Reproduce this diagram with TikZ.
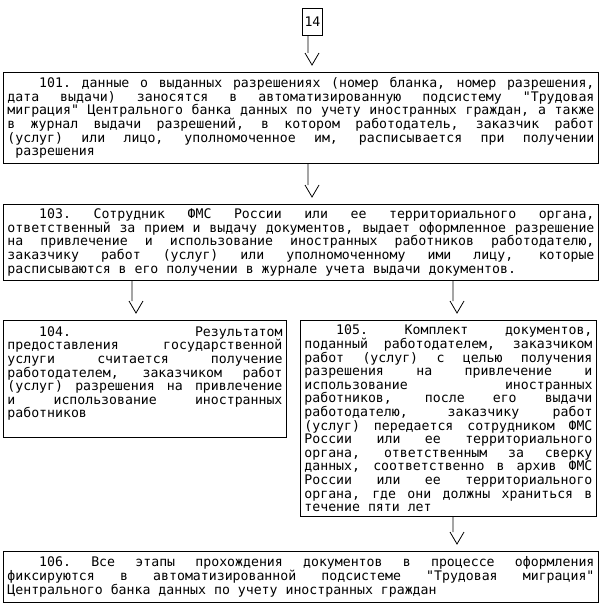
\documentclass[tikz,border=0pt]{standalone}
\usepackage{fontspec}
\setmonofont{DejaVu Sans Mono}
\usetikzlibrary{calc}

\newcommand{\boxfont}{\ttfamily\fontsize{13.2bp}{13.6bp}\selectfont
  \spaceskip=\fontdimen2\font plus 3\fontdimen2\font minus .3\fontdimen2\font
  \xspaceskip=\spaceskip \hyphenpenalty=10000 \tolerance=10000 }
\newcommand{\firstind}{\hspace*{4\fontdimen2\font}}

\begin{document}
\begin{tikzpicture}[x=1bp, y=-1bp,
	box/.style={draw, line width=0.9bp, anchor=north west, inner xsep=4bp, inner ysep=0bp, align=justify, font=\boxfont},
	vlink/.style={line width=0.8bp, to path={(\tikztostart) -- ($(\tikztotarget)+(0,-19)$)
		($(\tikztotarget)+(-3,-19)$) -- ($(\tikztotarget)+(4,-7)$) -- ($(\tikztotarget)+(11,-19)$)}}]
	\useasboundingbox (0,0) rectangle (605,614);
	\node[box, inner sep=0bp, minimum width=20bp, minimum height=27bp, align=center] (b14) at (302,8) {14};
	\node[box, text width=587bp, minimum height=91bp] (b101) at (3,72) {\firstind 101. данные о выданных разрешениях (номер бланка, номер разрешения,\linebreak
		дата выдачи) заносятся в автоматизированную подсистему "Трудовая\linebreak
		миграция" Центрального банка данных по учету иностранных граждан, а также\linebreak
		в журнал выдачи разрешений, в котором работодатель, заказчик работ\linebreak
		(услуг) или лицо, уполномоченное им, расписывается при получении\linebreak
		\hspace*{\fontdimen2\font}разрешения};
	\node[box, text width=587bp, minimum height=76bp] (b103) at (3,204) {\firstind 103. Сотрудник ФМС России или ее территориального органа,\linebreak
		ответственный за прием и выдачу документов, выдает оформленное разрешение\linebreak
		на привлечение и использование иностранных работников работодателю,\linebreak
		заказчику работ (услуг) или уполномоченному ими лицу, которые\linebreak
		расписываются в его получении в журнале учета выдачи документов.};
	\node[box, text width=275bp, minimum height=117bp] (b104) at (3,320) {\firstind 104. Результатом\linebreak
		предоставления государственной\linebreak
		услуги считается получение\linebreak
		работодателем, заказчиком работ\linebreak
		(услуг) разрешения на привлечение\linebreak
		и использование иностранных\linebreak
		работников\newline\mbox{}};
	\node[box, text width=288bp, minimum height=196bp] (b105) at (300,320) {\firstind 105. Комплект документов,\linebreak
		поданный работодателем, заказчиком\linebreak
		работ (услуг) с целью получения\linebreak
		разрешения на привлечение и\linebreak
		использование иностранных\linebreak
		работников, после его выдачи\linebreak
		работодателю, заказчику работ\linebreak
		(услуг) передается сотрудником ФМС\linebreak
		России или ее территориального\linebreak
		органа, ответственным за сверку\linebreak
		данных, соответственно в архив ФМС\linebreak
		России или ее территориального\linebreak
		органа, где они должны храниться в\linebreak
		течение пяти лет};
	\node[box, text width=587bp, minimum height=51bp] (b106) at (3,551) {\firstind 106. Все этапы прохождения документов в процессе оформления\linebreak
		фиксируются в автоматизированной подсистеме "Трудовая миграция"\linebreak
		Центрального банка данных по учету иностранных граждан};
	% connectors
	\draw[vlink] (b14.south -| 308,0) to (b101.north -| 308,0);
	\draw[vlink] (b101.south -| 308,0) to (b103.north -| 308,0);
	\draw[vlink] (b103.south -| 132,0) to (b104.north -| 132,0);
	\draw[vlink] (b103.south -| 453,0) to (b105.north -| 453,0);
	\draw[vlink] (b105.south -| 453,0) to (b106.north -| 453,0);
\end{tikzpicture}
\end{document}
